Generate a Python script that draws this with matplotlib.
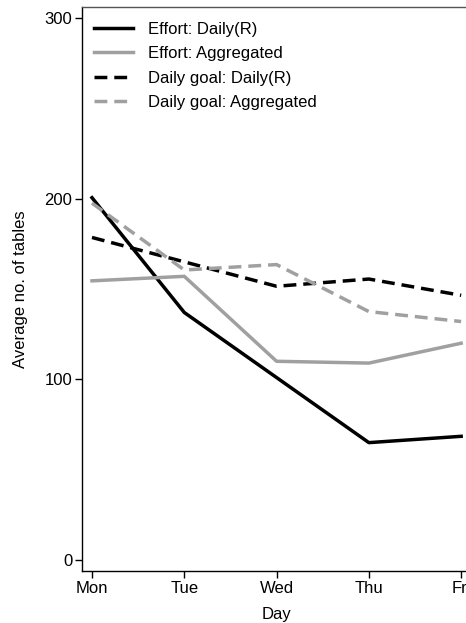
import numpy as np
import matplotlib.pyplot as plt

plt.rcParams['font.family'] = ['Liberation Sans', 'DejaVu Sans']

days = ['Mon', 'Tue', 'Wed', 'Thu', 'Fri']
effort_daily = [200.5, 137, 101, 65, 68.5]
effort_agg = [154.5, 157, 110, 109, 120]
goal_daily = [178.5, 165, 151.5, 155.5, 146.5]
goal_agg = [197.5, 160.5, 163.5, 137.5, 132]

fig = plt.figure(figsize=(4.66, 6.23), dpi=100)
ax = fig.add_axes([0.176, 0.0835, 0.835, 0.9053])

x = np.arange(len(days))
lw = 2.5
gray = '#a0a0a0'
ax.plot(x, effort_daily, color='black', lw=lw, label='Effort: Daily(R)')
ax.plot(x, effort_agg, color=gray, lw=lw, label='Effort: Aggregated')
ax.plot(x, goal_daily, color='black', lw=lw, dashes=(3.7, 2.0), label='Daily goal: Daily(R)')
ax.plot(x, goal_agg, color=gray, lw=lw, dashes=(3.7, 2.0), label='Daily goal: Aggregated')

ax.set_xlim(-0.108, 4.108)
ax.set_ylim(-6, 306)
ax.set_xticks(x)
ax.set_xticklabels(days)
ax.set_yticks([0, 100, 200, 300])
ax.tick_params(direction='out', length=5, width=1, labelsize=12, pad=2)
for s in ax.spines.values():
    s.set_linewidth(1)
ax.spines['top'].set_color('#555555')

ax.set_xlabel('Day', fontsize=12, labelpad=8)
ax.set_ylabel('Average no. of tables', fontsize=12, labelpad=12)

ax.legend(loc='upper left', frameon=False, fontsize=12, handlelength=2.35,
          handletextpad=0.9, labelspacing=0.57, borderaxespad=0,
          bbox_to_anchor=(0.0136, 0.9858))

fig.savefig('out.png', dpi=100)
